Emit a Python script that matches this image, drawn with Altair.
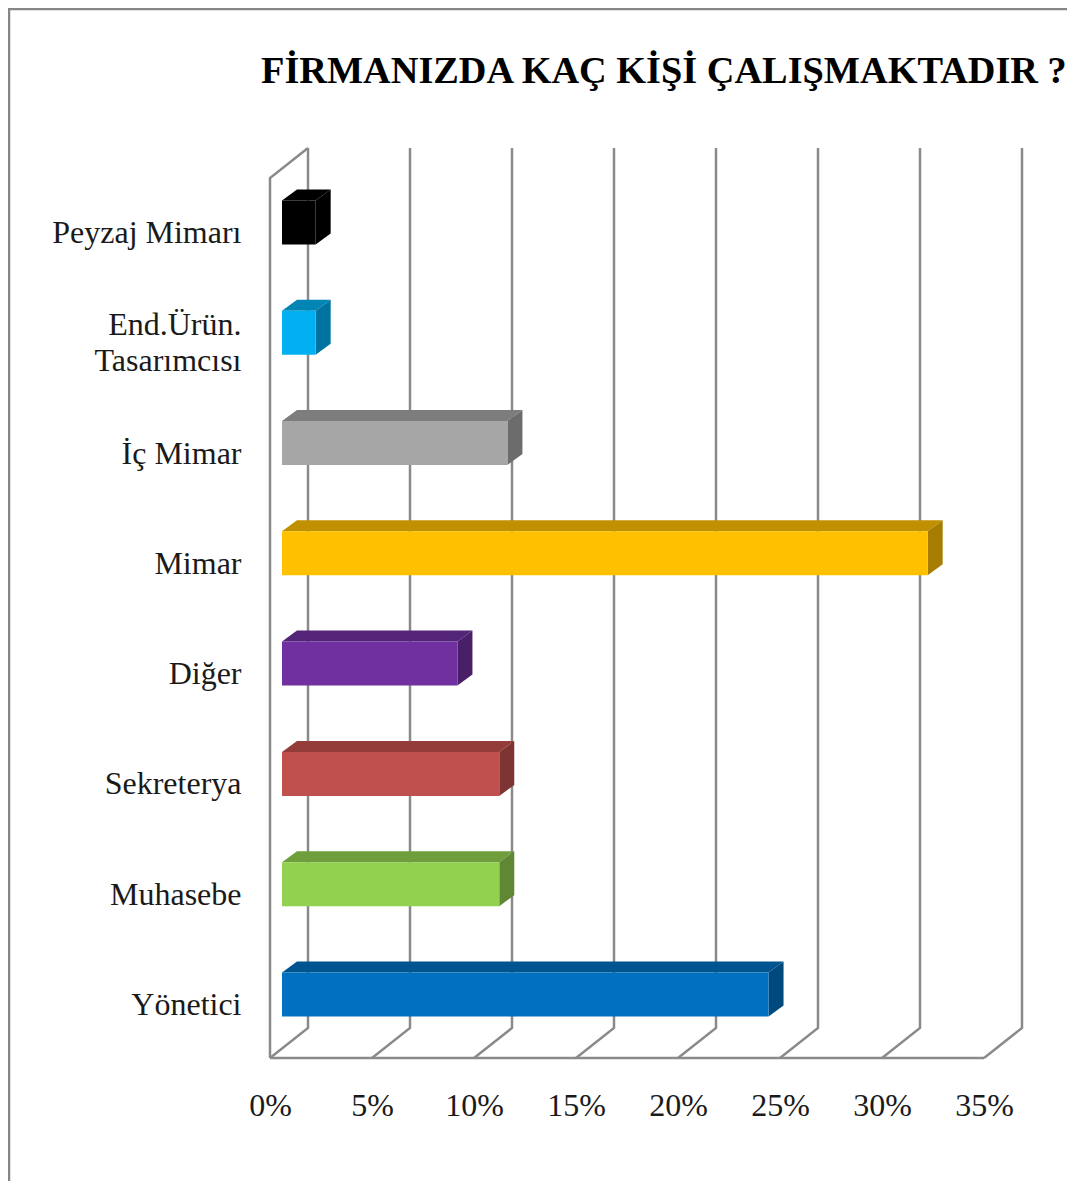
import json
import altair as alt
import pandas as pd

# Data, bottom to top as drawn
categories = ["Yönetici", "Muhasebe", "Sekreterya", "Diğer", "Mimar", "İç Mimar",
              ["End.Ürün.", "Tasarımcısı"], "Peyzaj Mimarı"]
values = [23.85, 10.65, 10.65, 8.6, 31.65, 11.05, 1.65, 1.65]
front_colors = ["#0070C0", "#92D050", "#C0504D", "#7030A0", "#FFC000", "#A6A6A6", "#00B0F0", "#000000"]
top_colors = ["#005490", "#6F9E3C", "#933C3A", "#542478", "#C09000", "#7D7D7D", "#0085B5", "#000000"]
side_colors = ["#00497D", "#5F8734", "#7D3432", "#491F68", "#A67D00", "#6C6C6C", "#0073A0", "#000000"]
ticks = [0, 5, 10, 15, 20, 25, 30, 35]
title_text = "FİRMANIZDA KAÇ KİŞİ ÇALIŞMAKTADIR ?"

W, H = 1059, 1173
PX_PER_PCT = 20.4
PX_PER_ROW = 110.3
X0 = 262.0      # plot px of 0 %
Y0 = 986.5      # plot px of first category centre
x_dom = [-X0 / PX_PER_PCT, (W - X0) / PX_PER_PCT]
y_dom = [(Y0 - H) / PX_PER_ROW, Y0 / PX_PER_ROW]


def dx(px):
    return px / PX_PER_PCT


def dy(px):
    return px / PX_PER_ROW


# Wall and floor geometry, in scale units
WALL_DX, WALL_DY = dx(38), dy(30)
FLOOR_Y = dy(986.5 - 1050)
WALL_TOP_FRONT = dy(986.5 - 170)
lines = []
for t in ticks:
    k = f"t{t}"
    lines += [dict(k=k, o=0, x=t, y=FLOOR_Y),
              dict(k=k, o=1, x=t + WALL_DX, y=FLOOR_Y + WALL_DY),
              dict(k=k, o=2, x=t + WALL_DX, y=WALL_TOP_FRONT + WALL_DY)]
lines += [dict(k="wall", o=0, x=0, y=FLOOR_Y),
          dict(k="wall", o=1, x=0, y=WALL_TOP_FRONT),
          dict(k="wall", o=2, x=WALL_DX, y=WALL_TOP_FRONT + WALL_DY),
          dict(k="floor", o=0, x=0, y=FLOOR_Y),
          dict(k="floor", o=1, x=35, y=FLOOR_Y)]
lines = pd.DataFrame(lines)

# Bars
BAR_START = dx(12)
BAR_HALF = dy(22)
D_X, D_Y = dx(15), dy(11)
front, top, side = [], [], []
for i, v in enumerate(values):
    x0, x1 = BAR_START, BAR_START + v
    yb, yt = i - BAR_HALF, i + BAR_HALF
    front.append(dict(x=x0, x2=x1, y=yb, y2=yt, c=front_colors[i], i=i))
    for x, y, y2 in [(x0, yt, yt), (x0 + D_X, yt + D_Y, yt),
                     (x1, yt + D_Y, yt), (x1 + D_X, yt + D_Y, yt + D_Y)]:
        top.append(dict(x=x, y=y, y2=y2, c=top_colors[i], i=i))
    side.append(dict(x=x1, y=yt, y2=yb, c=side_colors[i], i=i))
    side.append(dict(x=x1 + D_X, y=yt + D_Y, y2=yb + D_Y, c=side_colors[i], i=i))
front, top, side = pd.DataFrame(front), pd.DataFrame(top), pd.DataFrame(side)

X = alt.X("x:Q", scale=alt.Scale(domain=x_dom, nice=False, zero=False), axis=None)
Y = alt.Y("y:Q", scale=alt.Scale(domain=y_dom, nice=False, zero=False), axis=None)
FONT = "Liberation Serif"

grid = alt.Chart(lines).mark_line(color="#8A8A8A", strokeWidth=2.5, strokeJoin="miter", clip=True).encode(
    x=alt.X("x:Q",
            scale=alt.Scale(domain=x_dom, nice=False, zero=False),
            axis=alt.Axis(values=ticks, orient="bottom", offset=-76, domain=False, ticks=False,
                          grid=False, labelExpr="datum.value + '%'", labelFont=FONT, labelFontSize=32,
                          labelColor="#1a1a1a", labelBaseline="middle", labelPadding=0,
                          labelFlush=False, labelOverlap=False, title=None)),
    y=alt.Y("y:Q",
            scale=alt.Scale(domain=y_dom, nice=False, zero=False),
            axis=alt.Axis(values=list(range(len(categories))), orient="left", offset=-233, domain=False,
                          ticks=False, grid=False, labelAlign="right", labelBaseline="middle",
                          labelPadding=0, labelOffset=alt.expr("datum.value === 6 ? -8 : 10"),
                          labelFlush=False, labelOverlap=False, labelLimit=400,
                          labelFont=FONT, labelFontSize=32, labelColor="#1a1a1a", labelLineHeight=36,
                          labelExpr=json.dumps(categories, ensure_ascii=False) + "[datum.value]",
                          title=None)),
    detail="k:N",
    order="o:Q",
)

top_faces = alt.Chart(top).mark_area(interpolate="linear", opacity=1).encode(
    x=X, y=Y, y2="y2:Q", color=alt.Color("c:N", scale=None), detail="i:N")
side_faces = alt.Chart(side).mark_area(interpolate="linear", opacity=1).encode(
    x=X, y=Y, y2="y2:Q", color=alt.Color("c:N", scale=None), detail="i:N")
front_faces = alt.Chart(front).mark_rect().encode(
    x=X, x2="x2:Q", y=Y, y2="y2:Q", color=alt.Color("c:N", scale=None))

frame_df = pd.DataFrame({"p": [0]})
frame_left = alt.Chart(frame_df).mark_rule(color="#868686", strokeWidth=2.5).encode(
    x=alt.value(1), y=alt.value(0), y2=alt.value(H))
frame_top = alt.Chart(frame_df).mark_rule(color="#868686", strokeWidth=2.5).encode(
    y=alt.value(1), x=alt.value(0), x2=alt.value(W))

chart = alt.layer(grid, frame_left, frame_top, top_faces, side_faces, front_faces).properties(
    width=W, height=H, padding=0, autosize="none", background="white",
    title=alt.TitleParams(title_text, font=FONT, fontSize=38.3, fontWeight="bold", color="#000000",
                          anchor="start", frame="group", baseline="alphabetic", offset=0, dx=253, dy=115),
).configure_view(stroke=None).resolve_scale(color="independent").resolve_axis(x="independent", y="independent")

chart.save("out.html", embed_options={"renderer": "svg", "actions": False})
